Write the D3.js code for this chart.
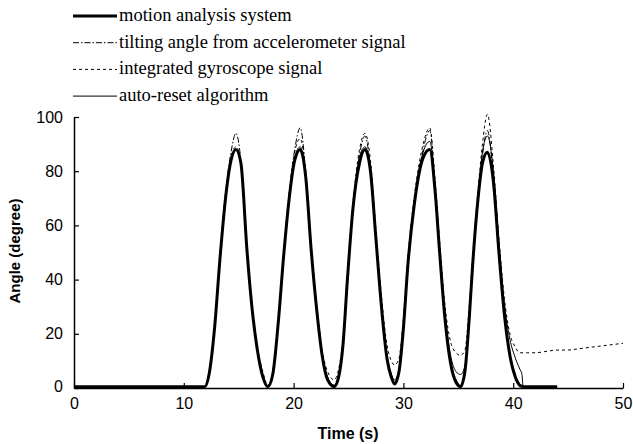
<!DOCTYPE html>
<html><head><meta charset="utf-8">
<script src="https://cdn.jsdelivr.net/npm/d3@7"></script>
<style>body{margin:0;background:#fff}svg{display:block}</style>
</head><body><svg id="c" width="633" height="444"></svg>
<script>
const seriesNames = ["motion analysis system","tilting angle from accelerometer signal","integrated gyroscope signal","auto-reset algorithm"];
const xTicks = [0,10,20,30,40,50];
const yTicks = [0,20,40,60,80,100];
const time = [0,2,4,6,8,10,11.9,12.3,12.8,13.3,13.8,14.3,14.75,15.2,15.75,16.2,16.7,17.2,17.65,
 18.1,18.6,19.1,19.6,20.1,20.6,21.1,21.6,22.1,22.6,23.1,23.7,
 24.1,24.5,24.9,25.4,26.0,26.5,27.0,27.5,28.0,28.5,28.9,29.2,
 29.6,30.0,30.4,31.0,31.8,32.4,32.9,33.3,33.8,34.3,34.8,35.2,
 35.6,36.0,36.3,36.8,37.2,37.65,38.2,38.7,39.2,39.7,40.2,40.6,40.8,40.9,41.3,42,43,44,45,46,47,48,49,50];
const motion = [0.5,0.5,0.5,0.5,0.5,0.5,0.5,5,22,48,70,84,88,83,51,30,14,4,0.5,
 5,24,49,70,84,88,78,51,29,12,3,0.5,
 4,16,40,66,83,88,80,55,30,11,4,1.5,
 6,22,45,68,85,88,72,50,25,9,2,0.5,
 6,26,45,70,83,87,76,50,27,12,4,1,0.6,0.5,0.5,0.5,0.5,0.5,null,null,null,null,null,null];
const accel = [0.5,0.5,0.5,0.5,0.5,0.5,0.5,6,23,49,72,87,94,84,52,31,15,5,1,
 6,25,50,72,88,96,80,52,30,13,4,1,
 5,17,41,67,86,93,81,56,31,12,5,2,
 7,23,46,69,88,95,74,51,26,10,3,1,
 7,27,46,71,86,95,78,52,28,13,5,1.5,0.8,0.5,0.5,0.5,0.5,0.5,null,null,null,null,null,null];
const gyro = [0,0,0,0,0,0,0,5,22,48,70,85,89,84,52,31,15,6,1,
 6,24,50,72,87,92,80,53,31,14,6,3,
 7,18,42,68,88,94,84,58,34,16,10,8.5,
 11,26,48,71,90,96,76,54,30,17,13,12,
 14,30,48,73,90,101,82,55,33,20,15,13,13,13,13,13,13.5,14,14,14.5,15,15.5,16,16.5];
const autoReset = [0.5,0.5,0.5,0.5,0.5,0.5,0.5,5,22,48,70,84,88,83,51,30,14,4,0.5,
 5,24,49,70,85,89,79,52,30,13,4,1,
 5,17,41,67,85,89,81,56,31,12,5,3,
 7,23,46,69,87,91,74,51,27,12,6,5,
 8,27,46,71,87,93,80,54,31,18,11,7,5,0.5,0.5,0.5,0.5,0.5,null,null,null,null,null,null];

const svg = d3.select("#c");
const x = d3.scaleLinear().domain([0,50]).range([74,623]);
const y = d3.scaleLinear().domain([0,100]).range([388,117]);

const tickFont = "'Liberation Sans Narrow', 'Arial Narrow', 'Liberation Sans', Arial, sans-serif";
const gx = svg.append("g").attr("transform","translate(0,388)")
  .call(d3.axisBottom(x).tickValues(xTicks).tickSizeInner(-5).tickSizeOuter(0).tickPadding(10));
const gy = svg.append("g").attr("transform","translate(74,0)")
  .call(d3.axisLeft(y).tickValues(yTicks).tickSizeInner(-5).tickSizeOuter(0).tickPadding(11));
[gx,gy].forEach(g=>{
  g.select(".domain").attr("stroke","#000").attr("stroke-width",1.5);
  g.selectAll(".tick line").attr("stroke","#000").attr("stroke-width",1.2);
  g.selectAll(".tick text").attr("font-family",tickFont).attr("font-size",16).attr("fill","#000");
});
gy.select(".tick text").attr("dy","0.2em");

const styles = [
  {data:motion, w:3, dash:null},
  {data:accel, w:1, dash:"6,2,1.5,2"},
  {data:gyro, w:1, dash:"3,3"},
  {data:autoReset, w:1, dash:null}
];
const order = [2,1,3,0];
order.forEach(i=>{
  const s = styles[i];
  const line = d3.line()
    .defined((d,j)=>s.data[j]!==null)
    .x((d,j)=>x(time[j])).y((d,j)=>y(s.data[j]))
    .curve(d3.curveMonotoneX);
  svg.append("path").attr("d", line(time)).attr("fill","none")
    .attr("stroke","#000").attr("stroke-width",s.w)
    .attr("stroke-dasharray",s.dash).attr("stroke-linejoin","round");
});

// legend
const leg = svg.append("g");
seriesNames.forEach((n,i)=>{
  const yy = 16 + i*26.7;
  const s = styles[i];
  leg.append("line").attr("x1",73).attr("x2",117).attr("y1",yy).attr("y2",yy)
    .attr("stroke","#000").attr("stroke-width",s.w).attr("stroke-dasharray",s.dash);
  leg.append("text").attr("x",119).attr("y",yy+5).text(n)
    .attr("font-family","'Liberation Serif','Times New Roman',serif").attr("font-size",18.5).attr("fill","#000");
});

svg.append("text").attr("x",348).attr("y",439).attr("text-anchor","middle")
  .attr("font-family","'Liberation Sans',Arial,sans-serif").attr("font-weight","bold").attr("font-size",16)
  .text("Time (s)");
svg.append("text").attr("transform","translate(20,251) rotate(-90)").attr("text-anchor","middle")
  .attr("font-family","'Liberation Sans',Arial,sans-serif").attr("font-weight","bold").attr("font-size",15)
  .text("Angle (degree)");
</script></body></html>
